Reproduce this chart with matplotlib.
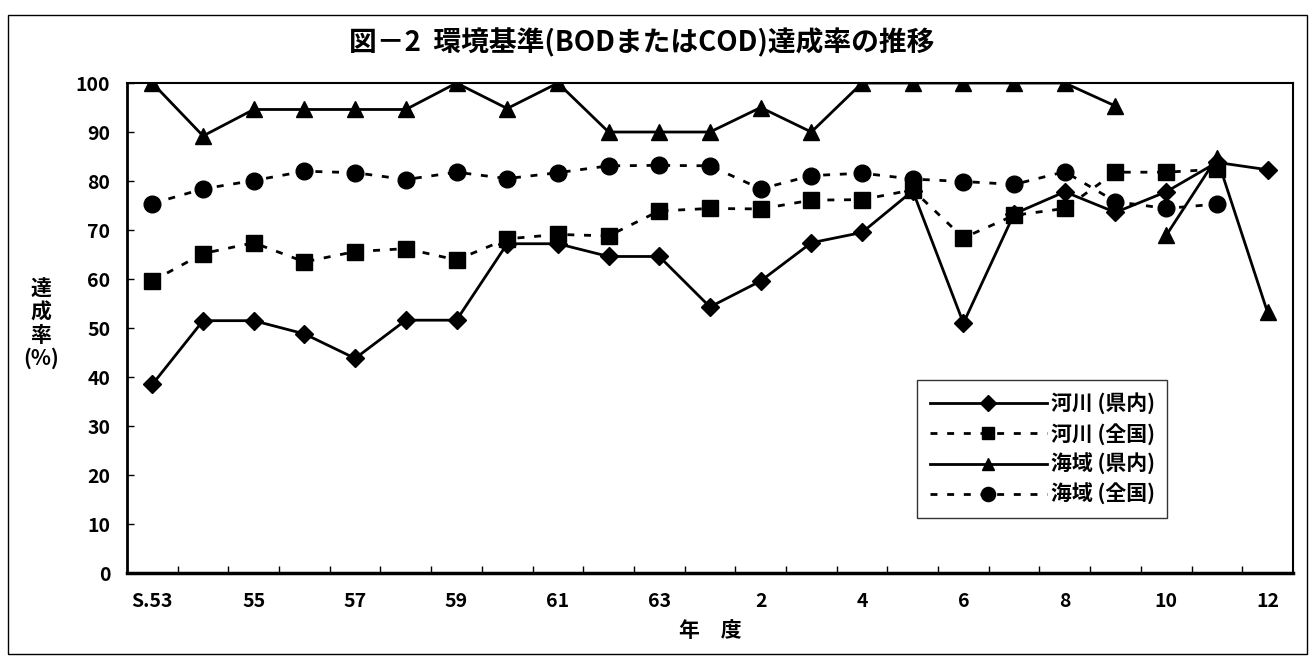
import numpy as np
import matplotlib.pyplot as plt
from matplotlib.patches import Rectangle

plt.rcParams['font.family'] = ['Noto Sans CJK JP', 'DejaVu Sans']
plt.rcParams['font.weight'] = 'bold'

# 年度 (S.53 - H.12)
years = ['S.53', '54', '55', '56', '57', '58', '59', '60', '61', '62', '63',
         '元', '2', '3', '4', '5', '6', '7', '8', '9', '10', '11', '12']
tick_labels = ['S.53', '55', '57', '59', '61', '63', '2', '4', '6', '8', '10', '12']

# 達成率 (%)
river_pref = [38.5, 51.5, 51.5, 48.8, 43.8, 51.6, 51.6, 67.2, 67.2, 64.6, 64.6,
              54.3, 59.6, 67.4, 69.5, 78.0, 51.0, 73.3, 77.8, 73.6, 77.8, 83.8, 82.3]
river_nat = [59.6, 65.2, 67.4, 63.5, 65.6, 66.2, 63.9, 68.2, 69.1, 68.8, 73.9,
             74.4, 74.3, 76.1, 76.2, 78.2, 68.4, 73.0, 74.4, 81.8, 81.8, 82.4]
sea_pref = [100, 89.2, 94.6, 94.6, 94.6, 94.6, 100, 94.8, 100, 90, 90,
            90, 95, 90, 100, 100, 100, 100, 100, 95.3, 68.9, 84.8, 53.2]
sea_nat = [75.4, 78.4, 80.1, 82.0, 81.7, 80.3, 81.8, 80.5, 81.7, 83.1, 83.2,
           83.1, 78.4, 81.1, 81.6, 80.4, 79.9, 79.3, 81.9, 75.8, 74.4, 75.3]
sea_pref_break = 20  # 海域(県内)の線はここで途切れる

x = np.arange(len(years))
dash = (0, (2.5, 3.5))

fig = plt.figure(figsize=(13.15, 6.61), dpi=100)
ax = fig.add_axes([0.0966, 0.1331, 0.8866, 0.7413])

ax.plot(x, river_pref, color='black', lw=2, marker='D', ms=9, label='河川 (県内)', zorder=4)
ax.plot(x[:len(river_nat)], river_nat, color='black', lw=2, ls=dash, marker='s', ms=11,
        label='河川 (全国)', zorder=3)
ax.plot(x[:sea_pref_break], sea_pref[:sea_pref_break], color='black', lw=2, marker='^',
        ms=11, label='海域 (県内)', zorder=4)
ax.plot(x[sea_pref_break:], sea_pref[sea_pref_break:], color='black', lw=2, marker='^',
        ms=11, zorder=4)
ax.plot(x[:len(sea_nat)], sea_nat, color='black', lw=2, ls=dash, marker='o', ms=12,
        label='海域 (全国)', zorder=3)

ax.set_xlim(-0.5, len(years) - 0.5)
ax.set_ylim(0, 100)
ax.set_yticks(np.arange(0, 101, 10))
ax.set_xticks(x[::2])
ax.set_xticklabels(tick_labels)
ax.set_xticks(np.arange(0.5, len(years) - 0.5, 1), minor=True)
ax.tick_params(axis='x', which='major', length=0, pad=14, labelsize=14)
ax.tick_params(axis='x', which='minor', direction='in', length=5, width=1)
ax.tick_params(axis='y', direction='in', length=5, width=1, pad=12, labelsize=14)
for lab in ax.get_xticklabels() + ax.get_yticklabels():
    lab.set_fontweight('bold')

for side in ['top', 'right']:
    ax.spines[side].set_linewidth(1.5)
ax.spines['left'].set_linewidth(2)
ax.spines['bottom'].set_linewidth(2.5)

ax.set_xlabel('年　度', fontsize=15, fontweight='bold', labelpad=6)
fig.text(0.031, 0.51, '達\n成\n率\n(%)', fontsize=15, fontweight='bold',
         ha='center', va='center', linespacing=1.12)

fig.text(0.488, 0.935, '図－2  環境基準(BODまたはCOD)達成率の推移', fontsize=20,
         fontweight='bold', ha='center', va='center')

leg = ax.legend(loc='upper left', bbox_to_anchor=(0.678, 0.394), fontsize=15,
                frameon=True, fancybox=False, edgecolor='black', handlelength=5.6,
                handletextpad=0.2, labelspacing=0.4, borderpad=0.6,
                borderaxespad=0, markerscale=0.85)
leg.get_frame().set_linewidth(1)
for t in leg.get_texts():
    t.set_fontweight('bold')

fig.patches.append(Rectangle((0.006, 0.01), 0.988, 0.968, transform=fig.transFigure,
                             fill=False, edgecolor='black', lw=1))

fig.savefig('out.png', dpi=100)
